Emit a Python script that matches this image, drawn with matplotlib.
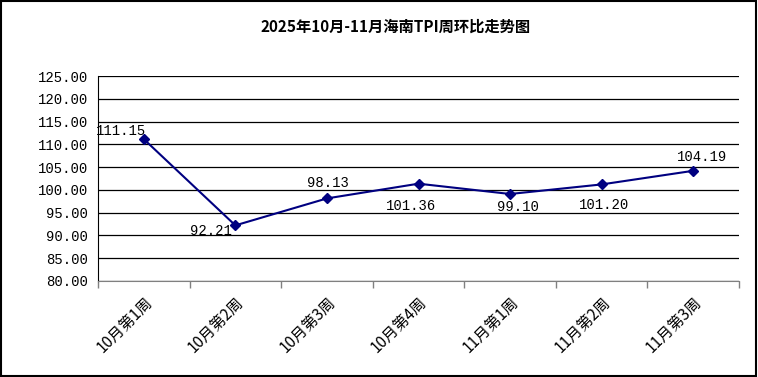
import matplotlib.pyplot as plt
from matplotlib.patches import Rectangle

plt.rcParams['font.family'] = ['Liberation Mono', 'Noto Sans CJK SC']

# data
weeks = ['10月第1周', '10月第2周', '10月第3周', '10月第4周', '11月第1周', '11月第2周', '11月第3周']
tpi = [111.15, 92.21, 98.13, 101.36, 99.10, 101.20, 104.19]
# label offsets (pixels) relative to each point
label_dx = [-23, -24, 1, -7, 8, 2, 9]
label_dy = [8, -6, 15, -22, -13, -21, 14]

fig = plt.figure(figsize=(7.58, 3.77), dpi=100)
ax = fig.add_axes([98 / 758, 1 - 281 / 377, (739 - 98) / 758, (281 - 76) / 377])

x = list(range(len(weeks)))
ax.plot(x, tpi, color='#000080', linewidth=1.5, marker='D', markersize=5,
        markerfacecolor='#000080', markeredgecolor='#000080', zorder=3)

for i, v in enumerate(tpi):
    ax.annotate(f'{v:.2f}', (x[i], v), xytext=(label_dx[i], label_dy[i]),
                textcoords='offset pixels', ha='center', va='center',
                fontsize=10, color='black')

ax.set_ylim(80, 125)
ax.set_yticks([80 + 5 * k for k in range(10)])
ax.set_yticklabels([f'{80 + 5 * k:.2f}' for k in range(10)], fontsize=10)
ax.tick_params(axis='y', length=0, pad=7)
ax.grid(axis='y', color='black', linewidth=0.9)
ax.set_axisbelow(True)

ax.set_xlim(-0.5, len(weeks) - 0.5)
ax.set_xticks(x)
ax.set_xticklabels(weeks, rotation=45, ha='right', va='top',
                   rotation_mode='anchor', fontsize=11,
                   family=['Noto Sans CJK SC'])
ax.tick_params(axis='x', length=0, pad=9)
ax.set_xticks([i - 0.5 for i in range(len(weeks) + 1)], minor=True)
ax.tick_params(axis='x', which='minor', length=5, color='#808080', width=1)

ax.spines['top'].set_visible(False)
ax.spines['right'].set_visible(False)
ax.spines['left'].set_color('black')
ax.spines['bottom'].set_color('#808080')

fig.text(396 / 758, 1 - 27 / 377, '2025年10月-11月海南TPI周环比走势图',
         ha='center', va='center', fontsize=11, fontweight='bold',
         family=['Noto Sans CJK SC'])

fig.patches.append(Rectangle((0.001, 0.002), 0.997, 0.995, transform=fig.transFigure,
                             fill=False, edgecolor='black', linewidth=1.5))

fig.savefig('out.png', dpi=100)
